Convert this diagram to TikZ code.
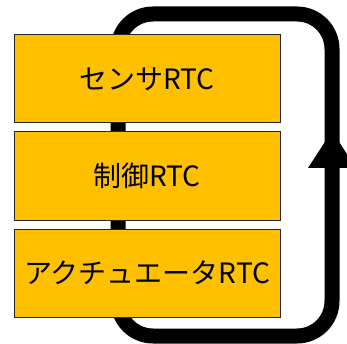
\documentclass[tikz,border=0pt]{standalone}
\usepackage{fontspec}
\setmainfont{Noto Sans CJK JP}
\usetikzlibrary{positioning}

\definecolor{rtcgold}{HTML}{FFC000}
\tikzset{
  rtcbox/.style={draw=black!85, line width=1pt, fill=rtcgold, minimum width=266pt,
    minimum height=88pt, inner sep=0pt, outer sep=0pt, font=\fontsize{28}{32}\selectfont},
  loopline/.style={draw=black, line width=15pt, rounded corners=35pt}
}

\begin{document}
\begin{tikzpicture}[x=1pt,y=-1pt]
\useasboundingbox (0,0) rectangle (347,344);
% feedback loop behind the boxes
\coordinate (loopnw) at (118,14);
\coordinate (loopse) at (332,336);
\draw [loopline] (loopnw) rectangle (loopse);
\coordinate (tip) at (332,131);
\fill [black] (tip) -- (308,168) -- (356,168) -- cycle;
% RTC boxes
\node (sensor) at (147,79) [rtcbox] {センサRTC};
\node (control) [rtcbox, below=9pt of sensor] {制御RTC};
\node (actuator) [rtcbox, below=9pt of control] {アクチュエータRTC};
\end{tikzpicture}
\end{document}
